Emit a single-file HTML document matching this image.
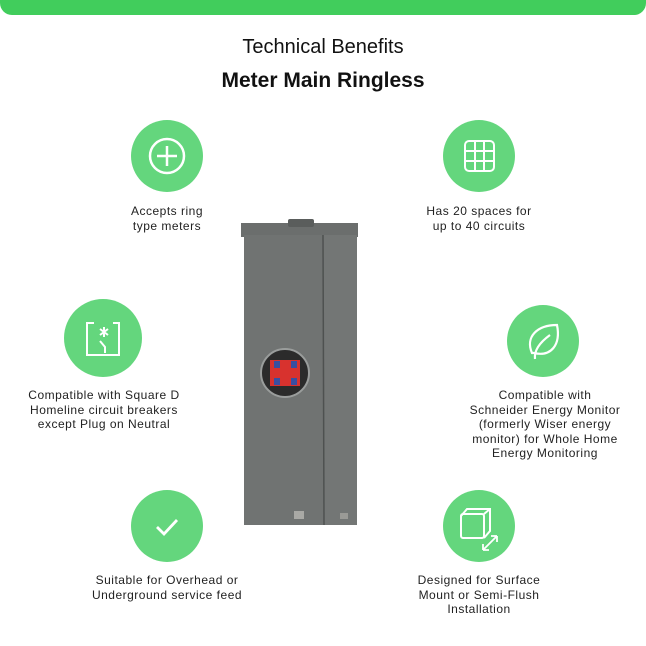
<!DOCTYPE html>
<html><head><style>
body{margin:0;width:646px;height:646px;background:#fff;position:relative;overflow:hidden;font-family:"Liberation Sans",sans-serif;}
.bar{position:absolute;left:0;top:-10px;width:646px;height:25px;background:#41cd5c;border-radius:0 0 12px 12px;}
.t1{position:absolute;top:36px;width:646px;text-align:center;font-size:20px;color:#111;}
.t2{position:absolute;top:69px;width:646px;text-align:center;font-size:21px;font-weight:bold;color:#111;}
.c{position:absolute;width:72px;height:72px;border-radius:50%;background:#64d67d;}
.c svg{position:absolute;left:0;top:0;}
.tx{position:absolute;width:240px;text-align:center;font-size:12px;line-height:14.5px;color:#222;letter-spacing:0.5px;}
</style></head><body>
<div class="bar"></div>
<div class="t1">Technical Benefits</div>
<div class="t2">Meter Main Ringless</div>

<div class="c" style="left:131px;top:120px"><svg width="72" height="72"><circle cx="36" cy="36" r="17" fill="none" stroke="#fff" stroke-width="2.5"/><path d="M36 26V46M26 36H46" stroke="#fff" stroke-width="2.5"/></svg></div>
<div class="tx" style="left:47px;top:204px">Accepts ring<br>type meters</div>

<div class="c" style="left:443px;top:120px"><svg width="72" height="72"><rect x="22" y="21" width="29" height="30" rx="4" fill="none" stroke="#fff" stroke-width="2"/><path d="M32 21V51M41 21V51M22 31H51M22 41H51" stroke="#fff" stroke-width="2"/></svg></div>
<div class="tx" style="left:359px;top:204px">Has 20 spaces for<br>up to 40 circuits</div>

<div class="c" style="left:64px;top:299px;width:78px;height:78px"><svg width="78" height="78"><path d="M30 24H23V56H55V24H49" fill="none" stroke="#fff" stroke-width="2"/><path d="M36 30L44 36M44 30L36 36M40 28V38" stroke="#fff" stroke-width="2"/><path d="M36 42L41 48V54" fill="none" stroke="#fff" stroke-width="2"/></svg></div>
<div class="tx" style="left:-16px;top:388px">Compatible with Square D<br>Homeline circuit breakers<br>except Plug on Neutral</div>

<div class="c" style="left:507px;top:305px"><svg width="72" height="72"><path d="M25 48C18 32 30 20 50 20C54 40 44 52 27 48Z" fill="none" stroke="#fff" stroke-width="2.2"/><path d="M43 30C32 38 27 46 28 54" fill="none" stroke="#fff" stroke-width="2.2"/></svg></div>
<div class="tx" style="left:425px;top:388px">Compatible with<br>Schneider Energy Monitor<br>(formerly Wiser energy<br>monitor) for Whole Home<br>Energy Monitoring</div>

<div class="c" style="left:131px;top:490px"><svg width="72" height="72"><path d="M26 37L33 44L46 30" fill="none" stroke="#fff" stroke-width="2.8"/></svg></div>
<div class="tx" style="left:47px;top:573px">Suitable for Overhead or<br>Underground service feed</div>

<div class="c" style="left:443px;top:490px"><svg width="72" height="72"><rect x="18" y="24" width="23" height="24" rx="2" fill="none" stroke="#fff" stroke-width="2"/><path d="M18 26L24 19H47V41L41 48M41 24L47 19" fill="none" stroke="#fff" stroke-width="2"/><path d="M40 60L54 46M40 60V54M40 60H46M54 46V52M54 46H48" fill="none" stroke="#fff" stroke-width="1.8"/></svg></div>
<div class="tx" style="left:359px;top:573px">Designed for Surface<br>Mount or Semi-Flush<br>Installation</div>

<svg style="position:absolute;left:230px;top:215px" width="140" height="315">
<rect x="11" y="8" width="117" height="14" fill="#6b6e6d"/>
<rect x="58" y="4" width="26" height="8" rx="2" fill="#5a5d5c"/>
<rect x="14" y="20" width="79" height="290" fill="#707372"/>
<rect x="93" y="20" width="34" height="290" fill="#737675"/>
<line x1="93" y1="20" x2="94" y2="310" stroke="#4e5150" stroke-width="1.5"/>
<circle cx="55" cy="158" r="24" fill="#2b2b2b" stroke="#9a9d9c" stroke-width="2"/>
<rect x="40" y="145" width="30" height="26" fill="#d8322e"/>
<rect x="44" y="146" width="6" height="7" fill="#3a4fa0"/><rect x="61" y="146" width="6" height="7" fill="#3a4fa0"/>
<rect x="44" y="163" width="6" height="7" fill="#3a4fa0"/><rect x="61" y="163" width="6" height="7" fill="#3a4fa0"/>
<rect x="64" y="296" width="10" height="8" fill="#a9a9a5"/><rect x="110" y="298" width="8" height="6" fill="#9a9a96"/>
</svg>
</body></html>
